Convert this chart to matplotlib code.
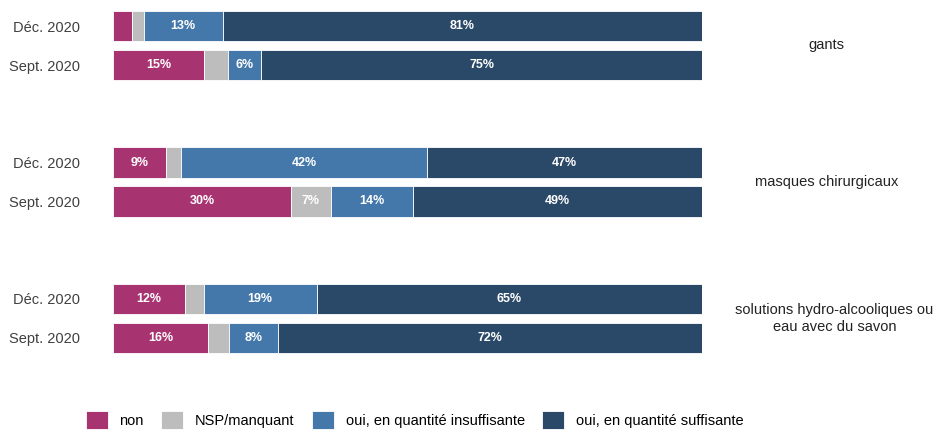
"""Stacked bars: disponibilite des equipements de protection, dec. vs sept. 2020"""
import matplotlib
matplotlib.use("Agg")
import matplotlib.pyplot as plt
import matplotlib.transforms as mtransforms

plt.rcParams['font.family'] = ['Liberation Sans Narrow', 'Liberation Sans', 'DejaVu Sans']

groups = ["gants", "masques chirurgicaux",
          "solutions hydro-alcooliques ou\neau avec du savon"]
periods = ["Déc. 2020", "Sept. 2020"]
categories = ["non", "NSP/manquant", "oui, en quantité insuffisante",
              "oui, en quantité suffisante"]
colors = ["#A83371", "#BDBDBD", "#4478AA", "#2A4867"]

# one row per (group, period), in display order
non = [3.2, 15.4, 9.0, 30.2, 12.2, 16.1]
nsp = [2.0, 4.2, 2.5, 6.8, 3.2, 3.6]
insuff = [13.4, 5.6, 41.8, 13.9, 19.2, 8.3]
suff = [81.4, 74.8, 46.7, 49.1, 65.4, 72.0]
series = [non, nsp, insuff, suff]

ypos = []
for g in range(len(groups)):
    for r in range(len(periods)):
        ypos.append(g * 3.5 + r)

fig = plt.figure(figsize=(9.36, 4.38), dpi=100)
ax = fig.add_axes([113 / 936, 1 - 353.6 / 438, 589 / 936, 343.2 / 438])

left = [0.0] * len(ypos)
for vals, col, cat in zip(series, colors, categories):
    ax.barh(ypos, vals, left=left, height=0.77, color=col, label=cat,
            edgecolor="white", linewidth=0.6)
    for y, v, l in zip(ypos, vals, left):
        if v >= 5:
            ax.text(l + v / 2, y, f"{v:.0f}%", ha="center", va="center",
                    color="white", fontsize=9, fontweight="bold")
    left = [l + v for l, v in zip(left, vals)]

ax.set_xlim(0, 100)
ax.set_ylim(8.4, -0.4)
ax.set_yticks(ypos)
ax.set_yticklabels(periods * len(groups), fontsize=10.5, color="#404040")
ax.tick_params(axis="y", length=0, pad=23.5)
ax.set_xticks([])
for s in ax.spines.values():
    s.set_visible(False)

trans = mtransforms.blended_transform_factory(ax.transAxes, ax.transData)
for g, name in enumerate(groups):
    xg = 1.225 if "\n" in name else 1.212
    ax.text(xg, g * 3.5 + 0.5, name, transform=trans, ha="center",
            va="center", fontsize=10.5, color="#222222", linespacing=1.3)

fig.legend(loc="lower center", bbox_to_anchor=(0.443, -0.01), ncol=4,
           frameon=False, fontsize=10.5, handlelength=1.5, handleheight=1.5,
           columnspacing=1.2, handletextpad=0.8)

fig.savefig("out.png", dpi=100)
